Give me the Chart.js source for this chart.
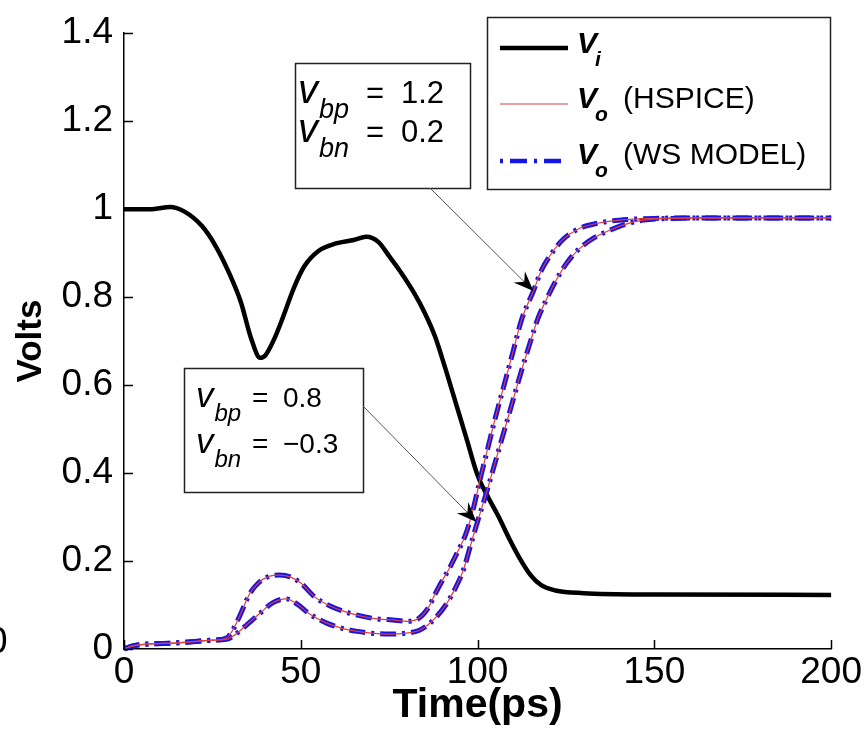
<!DOCTYPE html>
<html>
<head>
<meta charset="utf-8">
<script src="https://cdn.jsdelivr.net/npm/chart.js@4.4.1/dist/chart.umd.min.js"></script>
<style>
  html, body { margin: 0; padding: 0; background: #fff; }
  #chartCanvas { display: block; }
</style>
</head>
<body>
<canvas id="chartCanvas" width="864" height="738"></canvas>
<script>
// ---- data ----
var xTicks = [0, 50, 100, 150, 200];
var yTicks = [0, 0.2, 0.4, 0.6, 0.8, 1, 1.2, 1.4];
var yTickLabels = ["0", "0.2", "0.4", "0.6", "0.8", "1", "1.2", "1.4"];

// input waveform Vi
var timeVi = [0, 8, 13, 17, 22, 26, 30, 33, 36, 38.5, 40, 42.5, 45, 48, 51, 55, 60, 65, 68.5, 72, 75, 78, 82, 85, 88, 91, 94, 97, 100, 103, 106, 109, 112, 115, 118, 122, 130, 150, 200];
var voltVi = [1.0, 1.0, 1.005, 0.995, 0.962, 0.915, 0.85, 0.79, 0.705, 0.662, 0.668, 0.705, 0.755, 0.82, 0.87, 0.905, 0.922, 0.93, 0.937, 0.925, 0.893, 0.86, 0.81, 0.765, 0.71, 0.635, 0.555, 0.475, 0.395, 0.345, 0.30, 0.25, 0.205, 0.168, 0.145, 0.133, 0.127, 0.124, 0.123];

// output, vbp = 1.2 / vbn = 0.2
var timeOutA = [0, 2, 5, 15, 25, 29, 30.7, 33, 35.5, 38, 41, 44, 47, 50, 54, 58, 62, 66, 71, 76, 80, 83.4, 86, 88, 90, 92, 94, 96.6, 98.5, 101, 103, 105, 107.5, 110, 112.5, 115.8, 118, 121, 124, 128.5, 134, 140, 150, 165, 200];
var voltOutA = [0, 0.006, 0.01, 0.014, 0.02, 0.025, 0.042, 0.08, 0.125, 0.15, 0.165, 0.168, 0.164, 0.15, 0.118, 0.099, 0.086, 0.077, 0.069, 0.066, 0.063, 0.07, 0.093, 0.125, 0.155, 0.183, 0.215, 0.26, 0.31, 0.395, 0.46, 0.525, 0.6, 0.675, 0.75, 0.814, 0.86, 0.90, 0.93, 0.955, 0.968, 0.975, 0.979, 0.98, 0.98];

// output, vbp = 0.8 / vbn = -0.3
var timeOutB = [0, 2, 5, 15, 25, 29, 31, 34, 38.3, 42, 45.8, 49, 52.4, 57, 61.7, 66, 70, 75, 79.7, 83.4, 86, 88, 91, 93.5, 96, 98, 100, 102.5, 105, 107.5, 110, 112.5, 115, 117, 119.5, 122, 125, 128.5, 133, 137.7, 142, 147, 155, 170, 200];
var voltOutB = [0, 0.006, 0.01, 0.014, 0.02, 0.022, 0.03, 0.05, 0.08, 0.105, 0.114, 0.102, 0.08, 0.06, 0.047, 0.04, 0.036, 0.034, 0.036, 0.042, 0.055, 0.07, 0.10, 0.135, 0.18, 0.235, 0.29, 0.355, 0.425, 0.495, 0.565, 0.635, 0.70, 0.75, 0.795, 0.835, 0.875, 0.908, 0.935, 0.953, 0.966, 0.975, 0.979, 0.98, 0.98];

function toPoints(ts, vs) {
  return ts.map(function (t, i) { return { x: t, y: vs[i] }; });
}

var FONT = "Arial, 'Liberation Sans', Helvetica, sans-serif";
Chart.defaults.font.family = FONT;
Chart.defaults.color = "#000";

var wsDash = [16, 6, 3, 6];

// inside tick marks, legend, text boxes and arrows
var decorations = {
  id: "decorations",
  afterDraw: function (chart) {
    var c = chart.ctx;
    var xs = chart.scales.x, ys = chart.scales.y;
    var area = chart.chartArea;

    c.save();
    c.strokeStyle = "#000";
    c.lineWidth = 1.5;
    xTicks.forEach(function (v) {
      var px = Math.round(xs.getPixelForValue(v)) + 0.5;
      c.beginPath(); c.moveTo(px, area.bottom); c.lineTo(px, area.bottom - 9); c.stroke();
    });
    yTicks.forEach(function (v) {
      var py = Math.round(ys.getPixelForValue(v)) + 0.5;
      c.beginPath(); c.moveTo(area.left, py); c.lineTo(area.left + 9, py); c.stroke();
    });

    // clipped label of the neighbouring panel at the left edge
    c.fillStyle = "#000";
    c.font = "37px " + FONT;
    c.textBaseline = "middle";
    c.fillText("0", -13, 643);

    // legend
    c.fillStyle = "#fff";
    c.fillRect(487, 17, 344, 173);
    c.strokeStyle = "#222";
    c.lineWidth = 1.5;
    c.strokeRect(487.5, 17.5, 343, 172);

    c.lineWidth = 4.5; c.strokeStyle = "#000";
    c.beginPath(); c.moveTo(500, 48); c.lineTo(568, 48); c.stroke();
    c.lineWidth = 1.2; c.strokeStyle = "#d04040";
    c.beginPath(); c.moveTo(500, 104); c.lineTo(568, 104); c.stroke();
    c.lineWidth = 4.5; c.strokeStyle = "#1414e6";
    c.setLineDash([3, 7, 17, 7]);
    c.beginPath(); c.moveTo(500, 161); c.lineTo(568, 161); c.stroke();
    c.setLineDash([]);

    c.fillStyle = "#000";
    c.textBaseline = "alphabetic";
    c.textAlign = "left";
    function vSub(x, y, sub) {
      c.font = "italic bold 30px " + FONT;
      c.fillText("V", x, y);
      var w = c.measureText("V").width;
      c.font = "italic bold 21px " + FONT;
      c.fillText(sub, x + w - 2, y + 13);
    }
    vSub(577, 53, "i");
    vSub(577, 108, "o");
    vSub(577, 164, "o");
    c.font = "30px " + FONT;
    c.fillText("(HSPICE)", 623, 108);
    c.fillText("(WS MODEL)", 623, 164);

    // annotation boxes
    function noteBox(bx, by, bw, bh, lines, f) {
      c.fillStyle = "#fff";
      c.fillRect(bx, by, bw, bh);
      c.strokeStyle = "#222";
      c.lineWidth = 1.5;
      c.strokeRect(bx + 0.5, by + 0.5, bw, bh);
      c.fillStyle = "#000";
      lines.forEach(function (ln) {
        c.font = "italic " + f.v + "px " + FONT;
        c.fillText("v", ln.x, ln.y);
        var w = c.measureText("v").width;
        c.font = "italic " + f.sub + "px " + FONT;
        c.fillText(ln.sub, ln.x + w + 1, ln.y + f.drop);
        c.font = f.num + "px " + FONT;
        c.fillText("=", ln.eqX, ln.y);
        c.fillText(ln.val, ln.valX, ln.y);
      });
    }
    noteBox(295, 63, 175, 125, [
      { x: 298, y: 103, sub: "bp", eqX: 366, valX: 401, val: "1.2" },
      { x: 298, y: 142, sub: "bn", eqX: 366, valX: 401, val: "0.2" }
    ], { v: 40, sub: 27, num: 31, drop: 15 });
    noteBox(184, 368, 179, 124, [
      { x: 196, y: 407, sub: "bp", eqX: 252, valX: 283, val: "0.8" },
      { x: 196, y: 453, sub: "bn", eqX: 252, valX: 283, val: "\u22120.3" }
    ], { v: 35, sub: 24, num: 28, drop: 14 });

    // arrows pointing at the curves
    function arrow(x0, y0, x1, y1) {
      c.strokeStyle = "#555";
      c.lineWidth = 1;
      c.beginPath(); c.moveTo(x0, y0); c.lineTo(x1, y1); c.stroke();
      var ang = Math.atan2(y1 - y0, x1 - x0);
      c.save();
      c.translate(x1, y1);
      c.rotate(ang);
      c.fillStyle = "#000";
      c.beginPath();
      c.moveTo(0, 0);
      c.lineTo(-20, -8);
      c.lineTo(-13, 0);
      c.lineTo(-20, 8);
      c.closePath();
      c.fill();
      c.restore();
    }
    arrow(430, 188, xs.getPixelForValue(115.8), ys.getPixelForValue(0.814));
    arrow(363, 406, xs.getPixelForValue(99.7), ys.getPixelForValue(0.289));
    c.restore();
  }
};

var ctx = document.getElementById("chartCanvas");
var chart = new Chart(ctx, {
  type: "line",
  data: {
    datasets: [
      { label: "Vo (HSPICE) a", data: toPoints(timeOutA, voltOutA), borderColor: "#e03c3c", borderWidth: 1.2 },
      { label: "Vo (HSPICE) b", data: toPoints(timeOutB, voltOutB), borderColor: "#e03c3c", borderWidth: 1.2 },
      { label: "Vo (WS MODEL) a", data: toPoints(timeOutA, voltOutA), borderColor: "#1414e6", borderWidth: 5, borderDash: wsDash },
      { label: "Vo (WS MODEL) b", data: toPoints(timeOutB, voltOutB), borderColor: "#1414e6", borderWidth: 5, borderDash: wsDash },
      { label: "Vi", data: toPoints(timeVi, voltVi), borderColor: "#000", borderWidth: 4.5 }
    ]
  },
  options: {
    responsive: false,
    animation: false,
    clip: false,
    layout: { padding: { top: 23, right: 30, left: 0, bottom: 0 } },
    elements: {
      point: { radius: 0 },
      line: { cubicInterpolationMode: "monotone", fill: false }
    },
    plugins: { legend: { display: false }, tooltip: { enabled: false } },
    scales: {
      x: {
        type: "linear",
        min: 0,
        max: 200,
        afterBuildTicks: function (scale) {
          scale.ticks = xTicks.map(function (v) { return { value: v }; });
        },
        afterFit: function (scale) { scale.height = 89; },
        grid: { display: false, drawTicks: false },
        border: { display: true, color: "#000", width: 1.5 },
        ticks: { font: { size: 37 }, padding: 2, maxRotation: 0, autoSkip: false, color: "#000" },
        title: { display: true, text: "Time(ps)", font: { size: 41, weight: "bold" }, padding: { top: 0, bottom: 8 }, color: "#000" }
      },
      y: {
        type: "linear",
        min: 0,
        max: 1.4,
        afterBuildTicks: function (scale) {
          scale.ticks = yTicks.map(function (v) { return { value: v }; });
        },
        afterFit: function (scale) { scale.width = 124; },
        grid: { display: false, drawTicks: false },
        border: { display: true, color: "#000", width: 1.5 },
        ticks: {
          font: { size: 37 },
          padding: 11,
          color: "#000",
          callback: function (value, index) { return yTickLabels[index]; }
        },
        title: { display: true, text: "Volts", font: { size: 35, weight: "bold" }, padding: { top: 10, bottom: 0 }, color: "#000" }
      }
    }
  },
  plugins: [decorations]
});
</script>
</body>
</html>
